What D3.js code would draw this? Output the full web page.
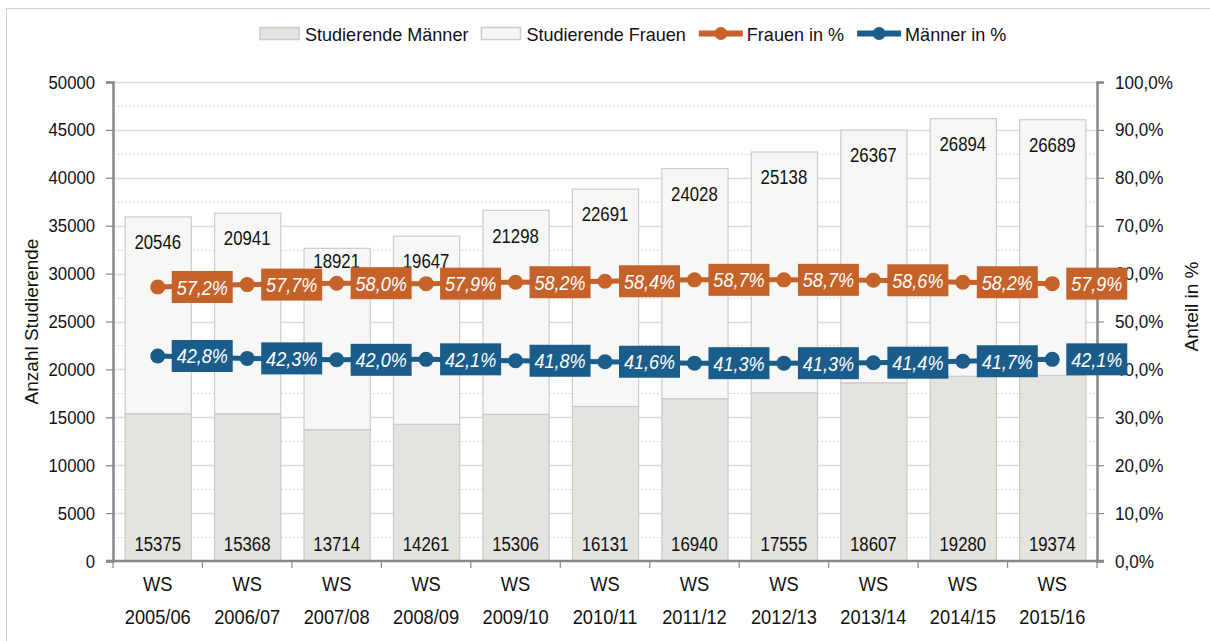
<!DOCTYPE html>
<html>
<head>
<meta charset="utf-8">
<script src="https://cdn.jsdelivr.net/npm/d3@7/dist/d3.min.js"></script>
<style>
  body { margin: 0; background: #fff; }
  svg { font-family: "Liberation Sans", Arial, sans-serif; }
</style>
</head>
<body>
<div id="chart"></div>
<script>
// Data
const semester = ["2005/06", "2006/07", "2007/08", "2008/09", "2009/10", "2010/11",
                  "2011/12", "2012/13", "2013/14", "2014/15", "2015/16"];
const maenner = [15375, 15368, 13714, 14261, 15306, 16131, 16940, 17555, 18607, 19280, 19374];
const frauen  = [20546, 20941, 18921, 19647, 21298, 22691, 24028, 25138, 26367, 26894, 26689];
const frauenPct  = [57.2, 57.7, 58.0, 57.9, 58.2, 58.4, 58.7, 58.7, 58.6, 58.2, 57.9];
const maennerPct = [42.8, 42.3, 42.0, 42.1, 41.8, 41.6, 41.3, 41.3, 41.4, 41.7, 42.1];

const W = 1210, H = 641;
const margin = { left: 113, right: 113, top: 82, bottom: 80 };
const x0 = margin.left, x1 = W - margin.right;
const yTop = margin.top, yBot = H - margin.bottom;

const colMBar = "#e4e3de", colFBar = "#f7f7f5";
const colOrange = "#c4622a", colBlue = "#1a5d8a";
const txtCol = "#111";

// no condensed font installed: squeeze text horizontally instead
const cond = (sel, fx, fy, sx) =>
  sel.attr("transform", (d, i) => `translate(${fx(d, i)},${fy(d, i)}) scale(${sx},1)`);
const pctFmt = d => d3.format(".1f")(d).replace(".", ",") + "%";

const svg = d3.select("#chart").append("svg")
  .attr("width", W).attr("height", H);

// outer frame
svg.append("rect")
  .attr("x", 6.5).attr("y", 8.5).attr("width", W).attr("height", H)
  .attr("fill", "none").attr("stroke", "#d0d0d0");

const x = d3.scaleBand().domain(semester).range([x0, x1]).paddingInner(0.26).paddingOuter(0.13);
const y = d3.scaleLinear().domain([0, 50000]).range([yBot, yTop]);
const yP = d3.scaleLinear().domain([0, 100]).range([yBot, yTop]);

// grid: solid majors, dotted minors
const majors = d3.range(5000, 50001, 5000);
const minors = d3.range(2500, 50000, 5000);
svg.append("g").selectAll("line").data(majors).join("line")
  .attr("x1", x0).attr("x2", x1)
  .attr("y1", d => Math.round(y(d)) + 0.5).attr("y2", d => Math.round(y(d)) + 0.5)
  .attr("stroke", "#dcdcdc").attr("stroke-width", 1.5);
svg.append("g").selectAll("line").data(minors).join("line")
  .attr("x1", x0).attr("x2", x1)
  .attr("y1", d => Math.round(y(d)) + 0.5).attr("y2", d => Math.round(y(d)) + 0.5)
  .attr("stroke", "#d8d8d8").attr("stroke-width", 1).attr("stroke-dasharray", "2,2");

// stacked bars
const bars = svg.append("g");
bars.selectAll(".m").data(semester).join("rect")
  .attr("x", d => x(d) + 0.5).attr("width", x.bandwidth())
  .attr("y", (d, i) => y(maenner[i])).attr("height", (d, i) => yBot - y(maenner[i]))
  .attr("fill", colMBar).attr("stroke", "#c9c9c5").attr("stroke-width", 1.2);
bars.selectAll(".f").data(semester).join("rect")
  .attr("x", d => x(d) + 0.5).attr("width", x.bandwidth())
  .attr("y", (d, i) => y(maenner[i] + frauen[i])).attr("height", (d, i) => y(maenner[i]) - y(maenner[i] + frauen[i]))
  .attr("fill", colFBar).attr("stroke", "#cccccc").attr("stroke-width", 1.2);

// bar labels
const cx = d => x(d) + x.bandwidth() / 2;
cond(svg.append("g").selectAll("text").data(semester).join("text"),
  cx, () => yBot - 17, 0.8)
  .attr("text-anchor", "middle").attr("dominant-baseline", "central")
  .attr("font-size", 21).attr("fill", txtCol)
  .text((d, i) => maenner[i]);
cond(svg.append("g").selectAll("text").data(semester).join("text"),
  cx, (d, i) => Math.min(y(maenner[i] + frauen[i]) + 25, yP(frauenPct[i]) - 22), 0.8)
  .attr("text-anchor", "middle").attr("dominant-baseline", "central")
  .attr("font-size", 21).attr("fill", txtCol)
  .text((d, i) => frauen[i]);

// axes
const axisCol = "#888";
const gl = svg.append("g").attr("transform", `translate(${x0},0)`)
  .call(d3.axisLeft(y).tickValues(d3.range(0, 50001, 5000)).tickSize(7).tickPadding(11).tickFormat(d3.format("d")));
const gr = svg.append("g").attr("transform", `translate(${x1},0)`)
  .call(d3.axisRight(yP).tickValues(d3.range(0, 101, 10)).tickSize(7).tickPadding(11).tickFormat(pctFmt));
[[gl, 0.88], [gr, 0.9]].forEach(([g, sx]) => {
  g.select(".domain").attr("stroke", axisCol).attr("stroke-width", 2.5);
  g.selectAll(".tick line").attr("stroke", axisCol).attr("stroke-width", 1.2);
  g.selectAll(".tick text").attr("font-size", 19).attr("fill", txtCol).attr("font-family", null)
    .attr("x", function () { return +this.getAttribute("x") / sx; })
    .attr("transform", `scale(${sx},1)`);
});

// x axis
svg.append("line").attr("x1", x0 - 7).attr("x2", x1 + 7).attr("y1", yBot).attr("y2", yBot)
  .attr("stroke", axisCol).attr("stroke-width", 2.5);
const bounds = d3.range(0, semester.length + 1).map(i => x0 + i * (x1 - x0) / semester.length);
svg.append("g").selectAll("line").data(bounds).join("line")
  .attr("x1", d => d).attr("x2", d => d).attr("y1", yBot).attr("y2", yBot + 7)
  .attr("stroke", axisCol).attr("stroke-width", 1.2);
cond(svg.append("g").selectAll("text").data(semester).join("text"), cx, () => yBot + 30, 0.87)
  .attr("text-anchor", "middle").attr("font-size", 21).attr("fill", txtCol).text("WS");
cond(svg.append("g").selectAll("text").data(semester).join("text"), cx, () => yBot + 63, 0.87)
  .attr("text-anchor", "middle").attr("font-size", 21).attr("fill", txtCol).text(d => d);

// axis titles
svg.append("text").attr("transform", `translate(38,${(yTop + yBot) / 2}) rotate(-90)`)
  .attr("text-anchor", "middle").attr("font-size", 19).attr("fill", txtCol).text("Anzahl Studierende");
svg.append("text").attr("transform", `translate(1198,${(yTop + yBot) / 2 - 15}) rotate(-90)`)
  .attr("text-anchor", "middle").attr("font-size", 19).attr("fill", txtCol).text("Anteil in %");

// percentage lines with labelled markers
function pctSeries(vals, col) {
  const g = svg.append("g");
  const line = d3.line().x((d, i) => cx(semester[i])).y(d => yP(d));
  g.append("path").datum(vals).attr("d", line)
    .attr("fill", "none").attr("stroke", col).attr("stroke-width", 5);
  g.selectAll("circle").data(vals).join("circle")
    .attr("cx", (d, i) => cx(semester[i])).attr("cy", d => yP(d)).attr("r", 7.5).attr("fill", col);
  g.selectAll("rect").data(vals).join("rect")
    .attr("x", (d, i) => cx(semester[i]) + 14).attr("y", d => yP(d) - 16)
    .attr("width", 61).attr("height", 32).attr("fill", col);
  cond(g.selectAll("text").data(vals).join("text"), (d, i) => cx(semester[i]) + 44.5, d => yP(d), 0.86)
    .attr("text-anchor", "middle").attr("dominant-baseline", "central")
    .attr("font-size", 21).attr("font-style", "italic").attr("fill", "#fff")
    .text(pctFmt);
}
pctSeries(frauenPct, colOrange);
pctSeries(maennerPct, colBlue);

// legend, laid out by measured text widths
const lg = svg.append("g").attr("font-size", 19).attr("fill", txtCol);
const legSx = 0.95;
const legendItems = [
  { type: "bar", fill: colMBar, stroke: "#c9c9c5", label: "Studierende Männer" },
  { type: "bar", fill: colFBar, stroke: "#cccccc", label: "Studierende Frauen" },
  { type: "line", fill: colOrange, label: "Frauen in %" },
  { type: "line", fill: colBlue, label: "Männer in %" }
];
let lx = 260;
legendItems.forEach(it => {
  let off;
  if (it.type === "bar") {
    lg.append("rect").attr("x", lx).attr("y", 27.5).attr("width", 39).attr("height", 12)
      .attr("fill", it.fill).attr("stroke", it.stroke).attr("stroke-width", 1.5);
    off = 45;
  } else {
    lg.append("line").attr("x1", lx).attr("x2", lx + 44).attr("y1", 33.5).attr("y2", 33.5)
      .attr("stroke", it.fill).attr("stroke-width", 6);
    lg.append("circle").attr("cx", lx + 22).attr("cy", 33.5).attr("r", 6.5).attr("fill", it.fill);
    off = 48;
  }
  const t = lg.append("text").attr("transform", `translate(${lx + off},34) scale(${legSx},1)`)
    .attr("dominant-baseline", "central").text(it.label);
  lx += off + t.node().getComputedTextLength() * legSx + 13;
});
</script>
</body>
</html>
